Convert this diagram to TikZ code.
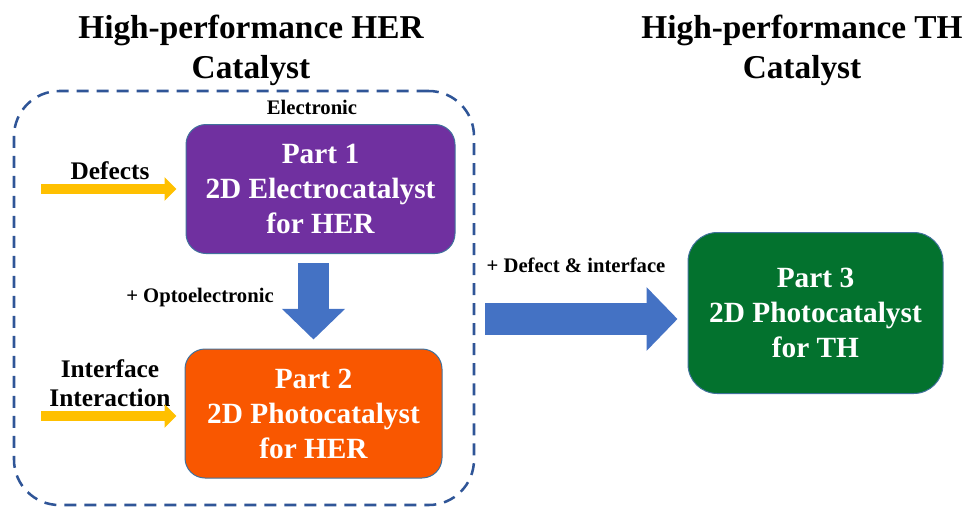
\documentclass[tikz,border=0pt]{standalone}
\usepackage{fontspec}
\setmainfont{Liberation Serif}
\usetikzlibrary{arrows.meta,calc}
\definecolor{dashblue}{HTML}{2F5597}
\definecolor{edgeblue}{HTML}{41719C}
\definecolor{ppurple}{HTML}{7030A0}
\definecolor{porange}{HTML}{F95700}
\definecolor{pgreen}{HTML}{03722E}
\definecolor{ablue}{HTML}{4472C4}
\definecolor{ayellow}{HTML}{FFC000}
\tikzset{
  title/.style={font={\fontsize{25}{30}\selectfont\bfseries}, align=center, inner sep=0pt},
  partbox/.style={draw=edgeblue, line width=0.75pt, text=white, align=center,
    font={\fontsize{22}{26.25}\selectfont\bfseries}, inner sep=0pt},
  biglabel/.style={font={\fontsize{19}{22}\selectfont\bfseries}, align=center, inner sep=0pt},
  smalllabel/.style={font={\fontsize{15.5}{18}\selectfont\bfseries}, inner sep=0pt},
  yarr/.style={draw=ayellow, line width=7.5pt, -{Triangle[width=17.25pt,length=9pt]}},
  barr/.style={draw=ablue, line width=23.5pt, -{Triangle[width=46pt,length=23pt]}},
}
\begin{document}
\begin{tikzpicture}[x=0.75pt,y=-0.75pt]
\useasboundingbox (0,0) rectangle (968,512);

\node[title] (t1) at (251,50) {High-performance HER\\Catalyst};
\node[title] (t2) at (802,50) {High-performance TH\\Catalyst};

\node[draw=dashblue, line width=1.9pt, dash pattern=on 9pt off 6pt, rounded corners=34pt,
  minimum width=345pt, minimum height=310.5pt, inner sep=0pt] (outer) at (244,298) {};

\node[smalllabel] (el) at (312,107) {Electronic};

\node[partbox, fill=ppurple, rounded corners=15pt, minimum width=201.75pt, minimum height=96.75pt]
  (p1) at (320.5,189) {Part 1\\2D Electrocatalyst\\for HER};
\node[partbox, fill=porange, rounded corners=15pt, minimum width=192.75pt, minimum height=96.75pt]
  (p2) at (313.5,413.5) {Part 2\\2D Photocatalyst\\for HER};
\node[partbox, fill=pgreen, rounded corners=22pt, minimum width=191.25pt, minimum height=120.75pt]
  (p3) at (815.5,313) {Part 3\\2D Photocatalyst\\for TH};

\node[biglabel] (ldef) at (110,171) {Defects};
\node[biglabel] (lint) at (110,383) {Interface\\Interaction};
\node[smalllabel] (lopt) at (200,298) {+ Optoelectronic};
\node[smalllabel] (ldi) at (576,265) {+ Defect \& interface};

\coordinate (y1) at (41,189);
\coordinate (y2) at (41,416);
\draw[yarr, shorten >=6.75pt] (y1) -- (y1 -| p1.west);
\draw[yarr, shorten >=6pt] (y2) -- (y2 -| p2.west);

\draw[barr, shorten <=6.75pt, shorten >=6.75pt] (p1.south -| p2.north) -- (p2.north);
\draw[barr, line width=24pt, -{Triangle[width=46.5pt,length=23.25pt]}, shorten >=7.5pt]
  ([xshift=7.5pt,yshift=-15.75pt]outer.east) -- ([yshift=-4.5pt]p3.west);
\end{tikzpicture}
\end{document}
